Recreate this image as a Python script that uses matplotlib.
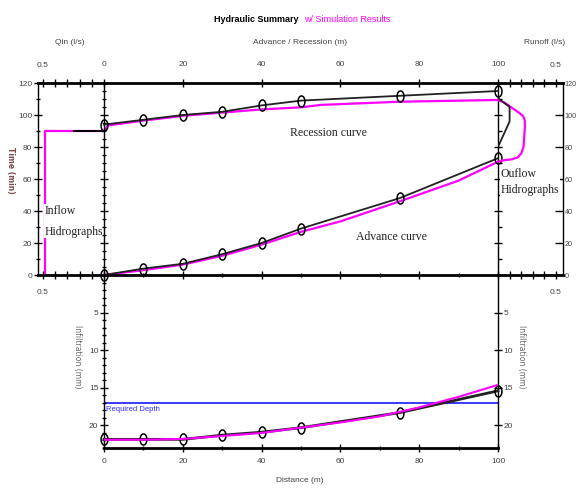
#!/usr/bin/env python3
"""Hydraulic summary chart: advance/recession, hydrographs and infiltration."""
import numpy as np
import matplotlib
matplotlib.use("Agg")
import matplotlib.pyplot as plt
from matplotlib.ticker import MultipleLocator
from matplotlib.path import Path

W, H = 576, 488
NARROW = ["Liberation Sans", "DejaVu Sans"]
SERIF = ["Liberation Serif", "DejaVu Serif"]
MAGENTA = "#ff00ff"
BLUE = "#2b2bff"
TICKC = "#444444"

# advance / recession (observed, with markers)
obs_x = [0, 10, 20, 30, 40, 50, 75, 100]
obs_adv = [0, 4, 7, 13, 20, 29, 48, 73]
obs_rec = [94, 97, 100, 102, 106, 109, 112, 115]

# simulated advance / recession
sim_rec_x = [0, 1, 10, 20, 30, 40, 50, 55, 75, 100]
sim_rec = [90, 93.5, 96.5, 99.5, 101.5, 103.5, 104.8, 106.3, 108.3, 109.4]
sim_adv_x = [0, 10, 20, 30, 40, 50, 60, 75, 90, 100]
sim_adv = [0, 3, 6.5, 12, 19, 27, 33.5, 46, 59, 70.8]

# inflow hydrographs (Qin l/s vs time)
sim_in_q = [0.48, 0.48, 0.0]
sim_in_t = [0, 90, 90]
obs_in_q = [0.25, 0.0]
obs_in_t = [90, 90]

# outflow hydrographs (runoff l/s vs time)
sim_out_q = [0, 0.05, 0.10, 0.17, 0.215, 0.23, 0.232, 0.22, 0.20, 0.17, 0.12, 0.06, 0.02, 0]
sim_out_t = [109.4, 108, 105.5, 102, 99.5, 97, 93, 80, 76, 73.5, 72.3, 71.8, 71.2, 70.8]
obs_out_q = [0, 0.10, 0.10, 0]
obs_out_t = [110.5, 105, 96, 80]

# infiltration (mm)
inf_x = [0, 10, 20, 30, 40, 50, 75, 100]
inf_obs = [21.85, 21.85, 21.85, 21.3, 20.9, 20.3, 18.3, 15.4]
inf_sim_x = [0, 10, 20, 30, 40, 50, 60, 70, 80, 90, 100]
inf_sim = [21.9, 21.9, 21.8, 21.4, 21.0, 20.3, 19.6, 18.8, 17.6, 16.2, 14.6]
required_depth = 17.0

# tall elliptical open marker, like the source software draws
_th = np.linspace(0, 2 * np.pi, 40)
OVAL = Path(np.column_stack([0.62 * np.cos(_th), np.sin(_th)]), closed=True)


def px_axes(fig, x0, x1, y0, y1):
    return fig.add_axes([x0 / W, 1 - y1 / H, (x1 - x0) / W, (y1 - y0) / H])


def style_ticks(ax):
    ax.tick_params(which="both", direction="inout", colors="black", labelcolor=TICKC,
                   labelsize=6, width=1.0)
    ax.tick_params(which="major", length=6)
    ax.tick_params(which="minor", length=3)
    for lab in ax.get_xticklabels() + ax.get_yticklabels():
        lab.set_family(NARROW)


def observed(ax, x, y, lw=1.3):
    ax.plot(x, y, color="#222222", lw=lw, marker=OVAL, ms=8, mfc="none",
            mec="black", mew=1.1, zorder=3, clip_on=False)


fig = plt.figure(figsize=(W / 100, H / 100), dpi=100)

ax_q = px_axes(fig, 38, 104, 83, 275)
ax_m = px_axes(fig, 104, 498, 83, 275)
ax_r = px_axes(fig, 498, 563, 83, 275)
ax_b = px_axes(fig, 104, 498, 275, 448)

for ax in (ax_q, ax_m, ax_r, ax_b):
    ax.patch.set_alpha(0)
    for sp in ax.spines.values():
        sp.set_linewidth(1.0)

# --- Qin panel
ax_q.set_xlim(0.541, 0)
ax_q.set_ylim(0, 120)
ax_q.plot(sim_in_q, sim_in_t, color=MAGENTA, lw=1.6, zorder=2)
ax_q.plot(obs_in_q, obs_in_t, color="black", lw=1.4, zorder=3)
ax_q.spines["right"].set_visible(False)
ax_q.spines["top"].set_linewidth(2)
ax_q.spines["bottom"].set_linewidth(2)
ax_q.set_xticks([0.5, 0.4, 0.3, 0.2, 0.1])
ax_q.set_xticklabels(["0.5", "", "", "", ""])
ax_q.tick_params(axis="x", top=True, bottom=True, labeltop=True, labelbottom=True)
ax_q.yaxis.set_major_locator(MultipleLocator(20))
ax_q.yaxis.set_minor_locator(MultipleLocator(10))
style_ticks(ax_q)
ax_q.tick_params(axis="x", pad=7)
ax_q.tick_params(axis="y", pad=1)
ax_q.text(0.49, 44, "Inflow\nHidrographs", family=SERIF, fontsize=8.5, va="top", ha="left",
          linespacing=2.0, color="#222222",
          bbox=dict(facecolor="white", edgecolor="none", pad=0.5), zorder=5)

# --- main panel (advance / recession)
ax_m.set_xlim(0, 100)
ax_m.set_ylim(0, 120)
ax_m.plot(sim_rec_x, sim_rec, color=MAGENTA, lw=1.6, zorder=2)
ax_m.plot(sim_adv_x, sim_adv, color=MAGENTA, lw=1.6, zorder=2)
observed(ax_m, obs_x, obs_rec)
observed(ax_m, obs_x, obs_adv)
ax_m.spines["top"].set_linewidth(2)
ax_m.spines["bottom"].set_linewidth(2)
ax_m.xaxis.set_major_locator(MultipleLocator(20))
ax_m.xaxis.set_minor_locator(MultipleLocator(10))
ax_m.yaxis.set_major_locator(MultipleLocator(20))
ax_m.yaxis.set_minor_locator(MultipleLocator(5))
ax_m.tick_params(axis="x", top=True, bottom=True, labeltop=True, labelbottom=False)
ax_m.tick_params(axis="y", left=True, right=True, labelleft=False)
style_ticks(ax_m)
ax_m.tick_params(axis="x", pad=8)
ax_m.text(57, 89, "Recession curve", family=SERIF, fontsize=8.5, ha="center", va="center",
          color="#222222")
ax_m.text(73, 24, "Advance curve", family=SERIF, fontsize=8.5, ha="center", va="center",
          color="#222222")

# --- runoff panel
ax_r.set_xlim(0, 0.56)
ax_r.set_ylim(0, 120)
ax_r.plot(sim_out_q, sim_out_t, color=MAGENTA, lw=1.6, zorder=2, clip_on=False)
ax_r.plot(obs_out_q, obs_out_t, color="#222222", lw=1.3, zorder=3)
ax_r.spines["left"].set_visible(False)
ax_r.spines["top"].set_linewidth(2)
ax_r.spines["bottom"].set_linewidth(2)
ax_r.set_xticks([0.1, 0.2, 0.3, 0.4, 0.5])
ax_r.set_xticklabels(["", "", "", "", "0.5"])
ax_r.tick_params(axis="x", top=True, bottom=True, labeltop=True, labelbottom=True)
ax_r.yaxis.set_major_locator(MultipleLocator(20))
ax_r.yaxis.set_minor_locator(MultipleLocator(10))
ax_r.tick_params(axis="y", left=False, right=True, labelleft=False, labelright=True)
style_ticks(ax_r)
ax_r.tick_params(axis="x", pad=7)
ax_r.tick_params(axis="y", which="both", direction="in", pad=1, labelsize=5.2)
ax_r.text(0.02, 67, "Ouflow\nHidrographs", family=SERIF, fontsize=8.5, va="top", ha="left",
          linespacing=1.45, color="#222222",
          bbox=dict(facecolor="white", edgecolor="none", pad=0.5), zorder=5)

# --- infiltration panel
ax_b.set_xlim(0, 100)
ax_b.set_ylim(23, 0)
ax_b.axhline(required_depth, color=BLUE, lw=1.3, zorder=1)
observed(ax_b, inf_x, inf_obs, lw=2.0)
ax_b.plot(inf_sim_x, inf_sim, color=MAGENTA, lw=1.5, zorder=3)
ax_b.text(0.6, required_depth + 0.4, "Required Depth", color=BLUE, fontsize=5.5,
          family=NARROW, va="top", ha="left")
ax_b.spines["top"].set_visible(False)
ax_b.spines["bottom"].set_linewidth(2)
ax_b.xaxis.set_major_locator(MultipleLocator(20))
ax_b.xaxis.set_minor_locator(MultipleLocator(10))
ax_b.set_yticks([5, 10, 15, 20])
ax_b.yaxis.set_minor_locator(MultipleLocator(1))
ax_b.tick_params(axis="y", left=True, right=True, labelleft=True, labelright=True)
style_ticks(ax_b)
ax_b.tick_params(axis="x", pad=4)
ax_b.tick_params(axis="y", pad=1)

# --- titles and axis labels
fig.text(298 / W, 1 - 19 / H, "Hydraulic Summary", ha="right", va="center", fontsize=6.5,
         fontweight="bold", family=NARROW)
fig.text(304 / W, 1 - 19 / H, "w/ Simulation Results", ha="left", va="center", fontsize=6.5,
         color=MAGENTA, family=NARROW)
fig.text(70 / W, 1 - 42 / H, "Qin (l/s)", ha="center", va="center", fontsize=6,
         color=TICKC, family=NARROW)
fig.text(300 / W, 1 - 42 / H, "Advance / Recession (m)", ha="center", va="center",
         fontsize=6, color=TICKC, family=NARROW)
fig.text(545 / W, 1 - 42 / H, "Runoff (l/s)", ha="center", va="center", fontsize=6,
         color=TICKC, family=NARROW)
fig.text(300 / W, 1 - 480 / H, "Distance (m)", ha="center", va="center", fontsize=6,
         color=TICKC, family=NARROW)
fig.text(10 / W, 1 - 170 / H, "Time (min)", rotation=270, ha="center", va="center",
         fontsize=5.5, color="#7a4a4a", fontweight="bold")
fig.text(78 / W, 1 - 357 / H, "Infiltration (mm)", rotation=270, ha="center", va="center",
         fontsize=5.5, color="#666666")
fig.text(522 / W, 1 - 357 / H, "Infiltration (mm)", rotation=270, ha="center", va="center",
         fontsize=5.5, color="#666666")

fig.savefig("out.png", dpi=100)
